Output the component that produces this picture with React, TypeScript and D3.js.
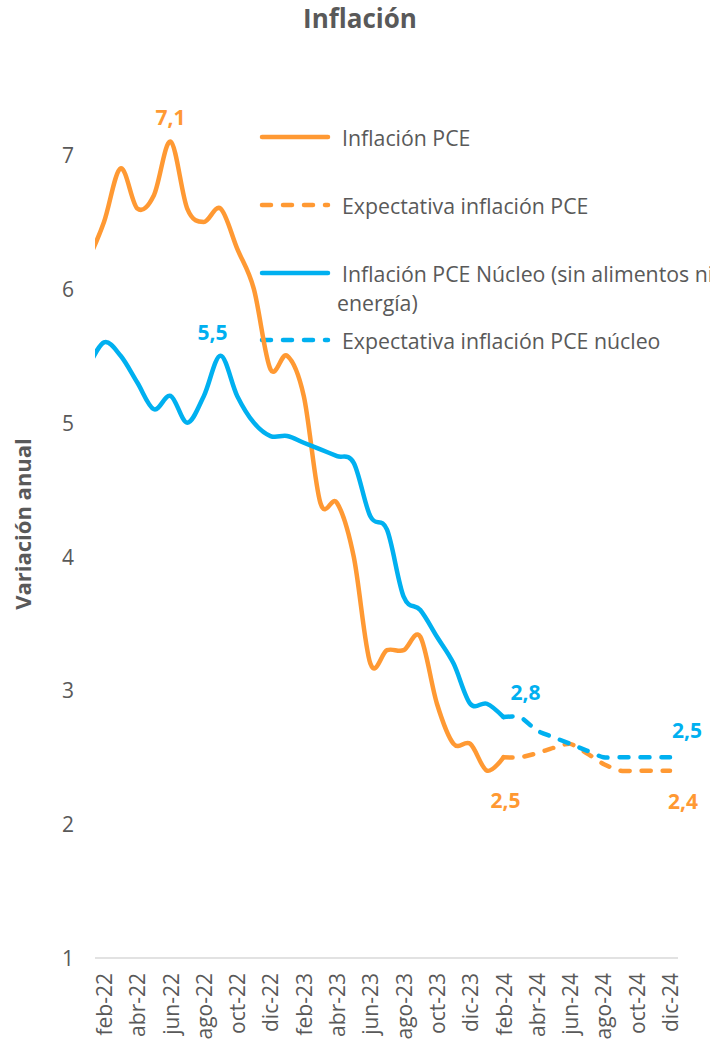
import React from "react";
import * as d3 from "d3";

const months = [
  "ene-22","feb-22","mar-22","abr-22","may-22","jun-22","jul-22","ago-22","sep-22","oct-22","nov-22","dic-22",
  "ene-23","feb-23","mar-23","abr-23","may-23","jun-23","jul-23","ago-23","sep-23","oct-23","nov-23","dic-23",
  "ene-24","feb-24","mar-24","abr-24","may-24","jun-24","jul-24","ago-24","sep-24","oct-24","nov-24","dic-24",
];
const tickLabels = months.filter((_, i) => i % 2 === 1);

// Inflación PCE, ene-22 .. feb-24
const pce = [6.2, 6.5, 6.9, 6.6, 6.7, 7.1, 6.6, 6.5, 6.6, 6.3, 6.0, 5.4,
  5.5, 5.2, 4.4, 4.4, 4.0, 3.2, 3.3, 3.3, 3.4, 2.9, 2.6, 2.6,
  2.4, 2.5];
// Inflación PCE núcleo, ene-22 .. feb-24
const core = [5.4, 5.6, 5.5, 5.3, 5.1, 5.2, 5.0, 5.2, 5.5, 5.2, 5.0, 4.9,
  4.9, 4.85, 4.8, 4.75, 4.7, 4.3, 4.2, 3.7, 3.6, 3.4, 3.2, 2.9,
  2.9, 2.8];
// Expectativas, feb-24 .. dic-24
const expPce = [2.5, 2.5, 2.53, 2.57, 2.6, 2.53, 2.45, 2.4, 2.4, 2.4, 2.4];
const expCore = [2.8, 2.8, 2.7, 2.65, 2.6, 2.55, 2.5, 2.5, 2.5, 2.5, 2.5];
const expStart = 25; // feb-24

const yTicks = [1, 2, 3, 4, 5, 6, 7];

const legendItems = [
  { lines: ["Inflación PCE"], color: "#FF9933", dashed: false },
  { lines: ["Expectativa inflación PCE"], color: "#FF9933", dashed: true },
  { lines: ["Inflación PCE Núcleo (sin alimentos ni", "energía)"], color: "#00B0F0", dashed: false },
  { lines: ["Expectativa inflación PCE núcleo"], color: "#00B0F0", dashed: true },
];

const ORANGE = "#FF9933";
const BLUE = "#00B0F0";
const TEXT = "#595959";
const FONT = "'Open Sans', sans-serif";

export default function App() {
  const x = d3.scalePoint<string>().domain(months).range([87.35, 670]);
  const y = d3.scaleLinear().domain([1, 7]).range([958, 155]);

  const line = d3
    .line<number>()
    .x((_, i) => x(months[i]) as number)
    .y((d) => y(d))
    .curve(d3.curveCardinal.tension(0));
  const lineExp = d3
    .line<number>()
    .x((_, i) => x(months[i + expStart]) as number)
    .y((d) => y(d))
    .curve(d3.curveCardinal.tension(0.3));

  const px = (i: number) => x(months[i]) as number;

  const labels = [
    { text: "7,1", color: ORANGE, x: px(5), y: y(pce[5]) - 25 },
    { text: "5,5", color: BLUE, x: px(8) - 8, y: y(core[8]) - 24 },
    { text: "2,8", color: BLUE, x: px(25) + 22, y: y(core[25]) - 25 },
    { text: "2,5", color: ORANGE, x: px(25) + 2, y: y(pce[25]) + 43 },
    { text: "2,5", color: BLUE, x: px(35) + 17, y: y(expCore[10]) - 27 },
    { text: "2,4", color: ORANGE, x: px(35) + 13, y: y(expPce[10]) + 30 },
  ];

  const legendY = [137, 205, 273, 340];

  return (
    <svg
      width={710}
      height={1041}
      style={{ position: "absolute", left: 0, top: 0, background: "#fff" }}
      fontFamily={FONT}
    >
      <defs>
        <clipPath id="plotClip">
          <rect x={95} y={0} width={590} height={1041} />
        </clipPath>
      </defs>
      <text x={360} y={18} textAnchor="middle" dominantBaseline="central" fontSize={26} fontWeight={700} fill={TEXT}>
        Inflación
      </text>

      {/* y axis title */}
      <text
        transform={`translate(22,524) rotate(-90)`}
        textAnchor="middle"
        dominantBaseline="central"
        fontSize={22}
        fontWeight={700}
        fill={TEXT}
      >
        Variación anual
      </text>

      {/* y ticks */}
      {yTicks.map((t) => (
        <text key={t} x={74} y={y(t)} textAnchor="end" dominantBaseline="central" fontSize={21} fill={TEXT}>
          {t}
        </text>
      ))}

      {/* x axis */}
      <line x1={95} x2={678} y1={y(1)} y2={y(1)} stroke="#D9D9D9" strokeWidth={1.5} />
      {tickLabels.map((m) => (
        <text
          key={m}
          transform={`translate(${x(m)},973) rotate(-90)`}
          textAnchor="end"
          dominantBaseline="central"
          fontSize={21}
          fill={TEXT}
        >
          {m}
        </text>
      ))}

      {/* legend */}
      {legendItems.map((item, k) => (
        <g key={k}>
          <line
            x1={262}
            x2={328}
            y1={legendY[k]}
            y2={legendY[k]}
            stroke={item.color}
            strokeWidth={4.5}
            strokeLinecap="round"
            strokeDasharray={item.dashed ? "9,12" : undefined}
          />
          {item.lines.map((l, j) => (
            <text
              key={j}
              x={j === 0 ? 342 : 337}
              y={legendY[k] + j * 29}
              dominantBaseline="central"
              fontSize={21.3}
              fill={TEXT}
            >
              {l}
            </text>
          ))}
        </g>
      ))}

      <g clipPath="url(#plotClip)" fill="none" strokeLinecap="round" strokeLinejoin="round">
        <path d={line(pce) || ""} stroke={ORANGE} strokeWidth={4.5} />
        <path d={line(core) || ""} stroke={BLUE} strokeWidth={4.5} />
        <path d={lineExp(expPce) || ""} stroke={ORANGE} strokeWidth={4.5} strokeDasharray="9,12" />
        <path d={lineExp(expCore) || ""} stroke={BLUE} strokeWidth={4.5} strokeDasharray="9,12" />
      </g>

      {labels.map((l, k) => (
        <text
          key={k}
          x={l.x}
          y={l.y}
          textAnchor="middle"
          dominantBaseline="central"
          fontSize={21}
          fontWeight={700}
          fill={l.color}
        >
          {l.text}
        </text>
      ))}
    </svg>
  );
}
